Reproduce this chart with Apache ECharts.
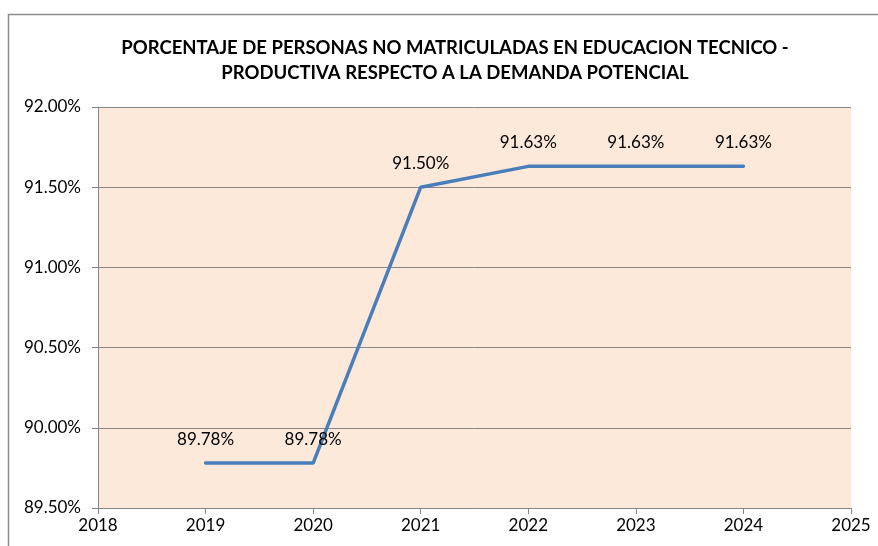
<!DOCTYPE html>
<html>
<head>
<meta charset="utf-8">
<script src="https://cdn.jsdelivr.net/npm/echarts@6/dist/echarts.min.js"></script>
<style>
  html, body { margin: 0; padding: 0; background: #fff; }
  #chart { width: 878px; height: 546px; }
</style>
</head>
<body>
<div id="chart"></div>
<script>
const years = [2019, 2020, 2021, 2022, 2023, 2024]
const values = [89.78, 89.78, 91.50, 91.63, 91.63, 91.63]
const titleText = 'PORCENTAJE DE PERSONAS NO MATRICULADAS EN EDUCACION TECNICO -\nPRODUCTIVA RESPECTO A LA DEMANDA POTENCIAL'

const chart = echarts.init(document.getElementById('chart'))
const font = 'Lato, "Open Sans", sans-serif'

chart.setOption({
  animation: false,
  title: {
    text: titleText,
    left: 450,
    top: 31,
    textAlign: 'center',
    textStyle: { fontFamily: font, fontSize: 18.5, fontWeight: 'bold', color: '#000', lineHeight: 25 },
  },
  graphic: [
    {
      type: 'rect',
      shape: { x: 8.5, y: 14.5, width: 880, height: 540 },
      style: { fill: 'none', stroke: '#8c8c8c', lineWidth: 1.5 },
      silent: true,
    },
  ],
  grid: {
    left: 98, right: 27, top: 107, bottom: 38,
    show: true, backgroundColor: '#fde9d9', borderWidth: 0,
  },
  xAxis: {
    type: 'value',
    min: 2018, max: 2025, interval: 1,
    axisLine: { show: true, lineStyle: { color: '#868686', width: 1 } },
    axisTick: { show: true, length: 6, lineStyle: { color: '#868686' } },
    splitLine: { show: false },
    axisLabel: { fontFamily: font, fontSize: 17, color: '#000', margin: 9, formatter: (v) => String(v) },
  },
  yAxis: {
    type: 'value',
    min: 89.5, max: 92.0, interval: 0.5,
    axisLine: { show: true, lineStyle: { color: '#868686', width: 1 } },
    axisTick: { show: true, length: 6, lineStyle: { color: '#868686' } },
    splitLine: { show: true, lineStyle: { color: '#868686', width: 1 } },
    axisLabel: {
      fontFamily: font, fontSize: 17, color: '#000', margin: 17,
      formatter: (v) => v.toFixed(2) + '%',
    },
  },
  series: [
    {
      type: 'line',
      data: years.map((y, i) => [y, values[i]]),
      symbol: 'circle',
      symbolSize: 1,
      showSymbol: true,
      itemStyle: { color: 'rgba(0,0,0,0)' },
      lineStyle: { color: '#4a7ebb', width: 3.5, cap: 'round' },
      label: {
        show: true,
        position: 'top',
        distance: 15,
        fontFamily: font, fontSize: 17, color: '#000',
        formatter: (p) => p.value[1].toFixed(2) + '%',
      },
    },
  ],
})
</script>
</body>
</html>
